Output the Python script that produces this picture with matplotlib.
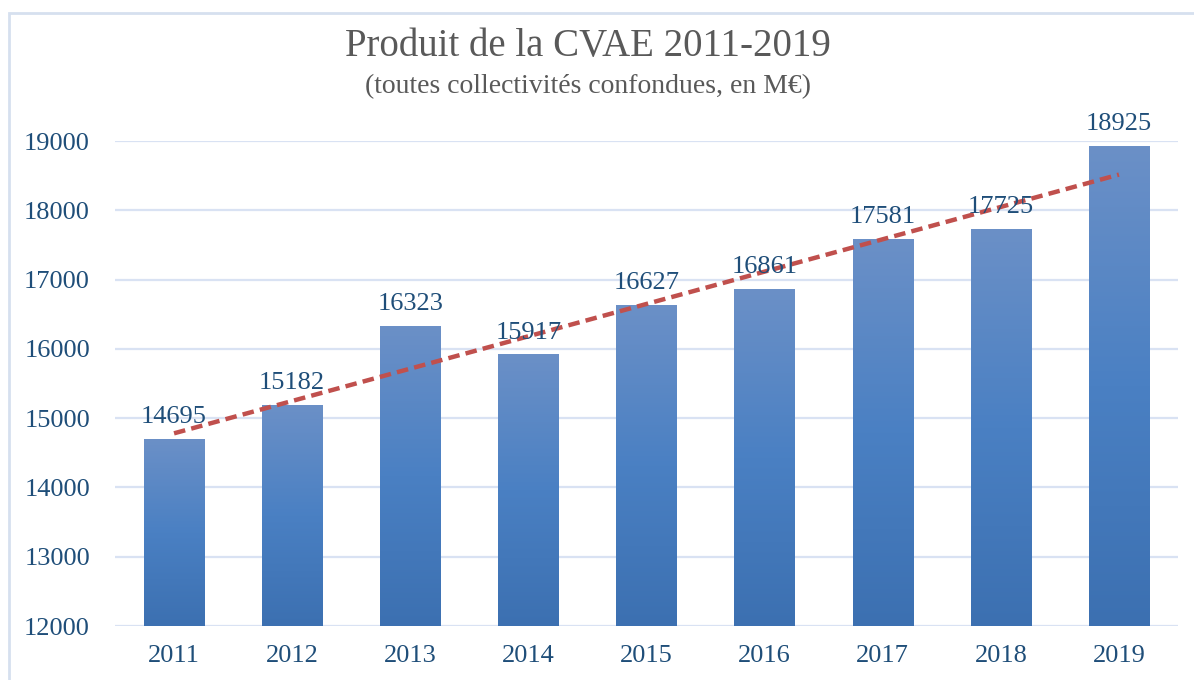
import matplotlib.pyplot as plt
import numpy as np
from matplotlib.patches import Rectangle

years = ["2011", "2012", "2013", "2014", "2015", "2016", "2017", "2018", "2019"]
produit = [14695, 15182, 16323, 15917, 16627, 16861, 17581, 17725, 18925]

serif = ["Liberation Serif", "DejaVu Serif"]
blue_txt = "#1F4E79"

fig = plt.figure(figsize=(11.94, 6.8), dpi=100)
ax = fig.add_axes([0.0963, 0.0794, 0.8903, 0.7132])

x = np.arange(len(years))
w = 0.51
ymin = 12000

# bars with vertical gradient (lighter at top)
grad = np.linspace(0, 1, 256).reshape(-1, 1)
cmap = plt.matplotlib.colors.LinearSegmentedColormap.from_list("b", ["#3C70B1", "#4A80C3", "#6B90C7"])
for xi, h in zip(x, produit):
    ax.imshow(grad, extent=[xi - w / 2, xi + w / 2, ymin, h], origin="lower",
              aspect="auto", cmap=cmap, zorder=2)
    ax.annotate(str(h), (xi, h), xytext=(0, 8), textcoords="offset points",
                ha="center", va="bottom", fontsize=19, color=blue_txt,
                family=serif, zorder=4)

# linear trend line
a, b = np.polyfit(x, produit, 1)
ax.plot(x, a * x + b, color="#C0504D", lw=3.2, ls=(0, (2.6, 1.4)), zorder=3)

ax.set_xlim(-0.5, len(years) - 0.5)
ax.set_ylim(ymin, 19000)
ax.set_yticks(range(12000, 19001, 1000))
ax.set_xticks(x)
ax.set_xticklabels(years)
ax.grid(axis="y", color="#D9E2F3", lw=1.6, zorder=0)
ax.set_axisbelow(True)
for s in ax.spines.values():
    s.set_visible(False)
ax.tick_params(length=0, labelcolor=blue_txt)
ax.tick_params(axis="x", pad=14)
ax.tick_params(axis="y", pad=18)
for lab in ax.get_xticklabels() + ax.get_yticklabels():
    lab.set_family(serif)
    lab.set_fontsize(19)

fig.text(0.4925, 0.931, "Produit de la CVAE 2011-2019", ha="center", va="center",
         fontsize=28, color="#595959", family=serif)
fig.text(0.4925, 0.872, "(toutes collectivités confondues, en M€)", ha="center",
         va="center", fontsize=20, color="#595959", family=serif)

fig.patches.append(Rectangle((0.0072, -0.1), 1.1, 1.081, transform=fig.transFigure,
                             fill=False, edgecolor="#D6E0EF", lw=2))

fig.savefig("out.png", dpi=100)
